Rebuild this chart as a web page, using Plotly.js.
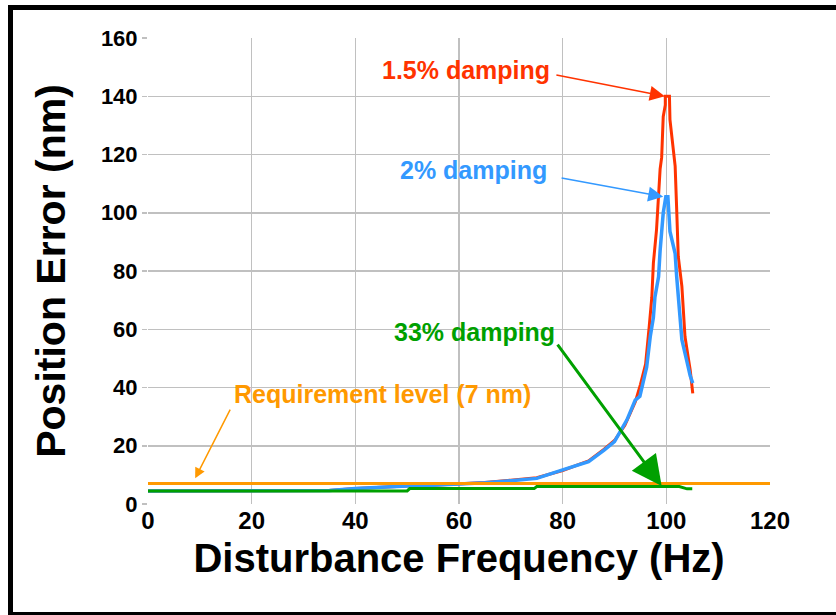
<!DOCTYPE html>
<html>
<head>
<meta charset="utf-8">
<script src="https://cdn.plot.ly/plotly-3.0.1.min.js"></script>
<style>
  html, body { margin: 0; padding: 0; background: #fff; }
  #wrap { position: relative; width: 836px; height: 615px; overflow: hidden; }
  #chart { width: 836px; height: 615px; }
  #frame { position: absolute; left: 8px; top: 5px; width: 900px; height: 602px;
           border-left: 5px solid #000; border-top: 5px solid #000; border-bottom: 5px solid #000;
           pointer-events: none; }
</style>
</head>
<body>
<div id="wrap">
  <div id="chart"></div>
  <div id="frame"></div>
</div>
<script>
// ---- data ----
const xTicks = [0, 20, 40, 60, 80, 100, 120];
const yTicks = [0, 20, 40, 60, 80, 100, 120, 140, 160];
const xGrid = [20, 40, 60, 80, 100, 120];
const yGrid = [20, 40, 60, 80, 100, 120, 140];

const freq15 = [0, 35, 40, 45, 50, 55, 60, 65, 70, 75, 80, 85, 88, 90, 92, 94, 95, 96, 96.7, 97.2, 97.5, 98.1, 98.8, 99.1, 99.4, 99.8, 99.8, 100.6, 100.7, 101.7, 102, 102.3, 103, 103.6, 104.2, 104.6, 105.1];
const err15  = [4.5, 4.6, 5.3, 5.8, 6.2, 6.4, 6.8, 7.4, 8.2, 9.0, 11.5, 14.8, 18.8, 21.8, 27, 35, 41, 48, 61, 71, 82.7, 94, 115, 119, 133, 137, 140, 140, 132, 116, 101, 85, 74.7, 57.5, 50.6, 46, 38];

const freq2 = [0, 35, 40, 45, 50, 55, 60, 65, 70, 75, 80, 85, 88, 90, 92.4, 94, 94.9, 95.6, 96.2, 96.9, 97.5, 97.8, 98.5, 98.8, 99.4, 99.9, 100.3, 100.7, 101.7, 102, 102.6, 103, 103.9, 104.6, 105.1];
const err2  = [4.5, 4.6, 5.3, 5.8, 6.2, 6.4, 6.8, 7.3, 8.0, 8.8, 11.7, 14.5, 18.5, 21.4, 28.9, 35.7, 37, 42.6, 47, 57.5, 64, 71, 78, 87, 99.9, 105.5, 105.5, 93.6, 86, 78, 66.7, 56.4, 49.5, 44, 41.5];

const freq33 = [0, 50, 50.5, 74.5, 75, 100, 102.5, 104, 105];
const err33  = [4.5, 4.5, 5.3, 5.3, 6.0, 6.0, 6.0, 5.2, 5.2];

const reqFreq = [0, 120];
const reqLevel = [7, 7];

// annotation anchors (data coords)
const labels = ["1.5% damping", "2% damping", "33% damping", "Requirement level (7 nm)"];
const labelX = [61.4, 62.8, 62.9, 45.3];
const labelY = [149.1, 114.8, 59.1, 37.8];
const arrowTailX = [78.5, 79.5, 78.8, 16.0];
const arrowTailY = [147.4, 112.0, 55.2, 32.9];
const arrowHeadX = [99.7, 99.4, 99.1, 9.1];
const arrowHeadY = [140.0, 105.5, 6.2, 8.8];

// ---- styles ----
const colors = ["#ff3300", "#3399ff", "#00a000", "#ff9900"];
const gridColor = "#c0c0c0";
const fontFam = "Liberation Sans, Arial, sans-serif";

const traces = [
  { x: freq15, y: err15, mode: "lines", line: { color: colors[0], width: 3 } },
  { x: freq2, y: err2, mode: "lines", line: { color: colors[1], width: 3.5 } },
  { x: freq33, y: err33, mode: "lines", line: { color: colors[2], width: 3 } },
  { x: reqFreq, y: reqLevel, mode: "lines", line: { color: colors[3], width: 3 }, xaxis: "x2", yaxis: "y2" }
];

const arrowWidths = [1.5, 1.5, 3, 1.5];
const arrowSizes = [2, 2, 2, 1.4];
const annotations = [];
for (let i = 0; i < labels.length; i++) {
  annotations.push({
    x: labelX[i], y: labelY[i], xref: "x", yref: "y", text: labels[i], showarrow: false,
    font: { family: fontFam, size: 25, color: colors[i], weight: "bold" }
  });
  annotations.push({
    x: arrowHeadX[i], y: arrowHeadY[i], xref: "x", yref: "y",
    ax: arrowTailX[i], ay: arrowTailY[i], axref: "x", ayref: "y",
    text: "", showarrow: true, arrowhead: 2, arrowsize: arrowSizes[i],
    arrowwidth: arrowWidths[i], arrowcolor: colors[i], standoff: 0, startstandoff: 0
  });
}

const layout = {
  width: 836, height: 615,
  margin: { l: 148, r: 66, t: 38, b: 111, pad: 0 },
  paper_bgcolor: "#ffffff", plot_bgcolor: "#ffffff",
  showlegend: false,
  xaxis: {
    range: [0, 120], tickvals: xTicks, ticktext: xTicks.map(String),
    showgrid: false, zeroline: false, showline: false, ticks: "",
    tickfont: { family: fontFam, size: 24, color: "#000", weight: "bold" },
    title: { text: "Disturbance Frequency (Hz)", standoff: 10,
             font: { family: fontFam, size: 40, color: "#000", weight: "bold" } }
  },
  yaxis: {
    range: [0, 160], tickvals: yTicks, ticktext: yTicks.map(String),
    showgrid: false, zeroline: false, showline: false,
    ticks: "outside", ticklen: 5, tickcolor: gridColor, tickwidth: 1.5,
    tickfont: { family: fontFam, size: 22, color: "#000", weight: "bold" },
    title: { text: "Position Error (nm)", standoff: 22,
             font: { family: fontFam, size: 41, color: "#000", weight: "bold" } }
  },
  xaxis2: {
    overlaying: "x", range: [0, 120], tickvals: xGrid, showticklabels: false, ticks: "",
    showgrid: true, gridcolor: gridColor, gridwidth: 1.5, zeroline: false, showline: false, anchor: "y2"
  },
  yaxis2: {
    overlaying: "y", range: [0, 160], tickvals: yGrid, showticklabels: false, ticks: "",
    showgrid: true, gridcolor: gridColor, gridwidth: 1.5, zeroline: false, showline: false, anchor: "x2"
  },
  annotations: annotations
};

Plotly.newPlot("chart", traces, layout, { staticPlot: true, displayModeBar: false });
</script>
</body>
</html>
